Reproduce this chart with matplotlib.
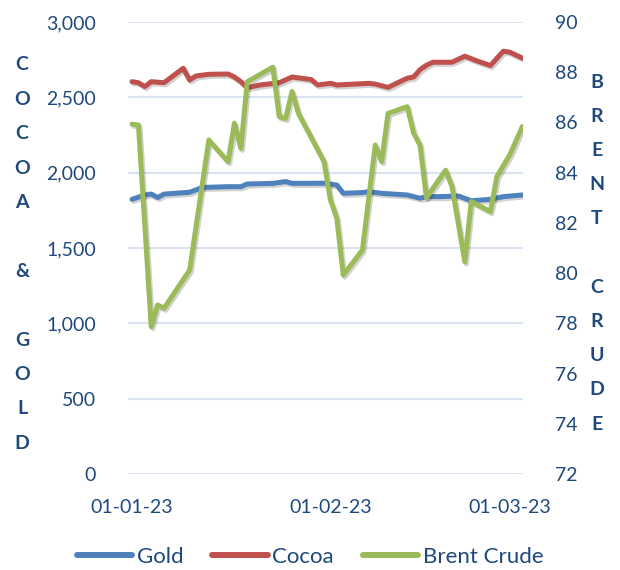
import pandas as pd
import matplotlib
matplotlib.use("Agg")
import matplotlib.pyplot as plt
import matplotlib.dates as mdates
import matplotlib.patheffects as pe

plt.rcParams['font.family'] = ['Lato', 'DejaVu Sans']

TEXT = "#1F497D"
GRID = "#D9E3F1"

gold_dates = ["2023-01-01", "2023-01-03", "2023-01-04", "2023-01-05", "2023-01-06",
              "2023-01-10", "2023-01-12", "2023-01-16", "2023-01-18", "2023-01-19",
              "2023-01-23", "2023-01-25", "2023-01-26", "2023-01-31", "2023-02-02",
              "2023-02-03", "2023-02-06", "2023-02-07", "2023-02-09", "2023-02-13",
              "2023-02-15", "2023-02-16", "2023-02-18", "2023-02-21", "2023-02-23",
              "2023-02-26", "2023-02-28", "2023-03-03"]
gold = [1823, 1852, 1858, 1835, 1858, 1870, 1902, 1907, 1907, 1925,
        1929, 1941, 1929, 1930, 1918, 1863, 1868, 1874, 1863, 1852,
        1830, 1841, 1841, 1845, 1814, 1823, 1841, 1852]

cocoa_dates = ["2023-01-01", "2023-01-02", "2023-01-03", "2023-01-04", "2023-01-06",
               "2023-01-09", "2023-01-10", "2023-01-11", "2023-01-13", "2023-01-16",
               "2023-01-17", "2023-01-18", "2023-01-19", "2023-01-21", "2023-01-24",
               "2023-01-26", "2023-01-29", "2023-01-30", "2023-02-01", "2023-02-02",
               "2023-02-07", "2023-02-08", "2023-02-10", "2023-02-13", "2023-02-14",
               "2023-02-15", "2023-02-16", "2023-02-17", "2023-02-20", "2023-02-22",
               "2023-02-24", "2023-02-26", "2023-02-28", "2023-03-01", "2023-03-03"]
cocoa = [2604, 2597, 2571, 2604, 2597, 2693, 2615, 2642, 2653, 2655,
         2635, 2604, 2564, 2582, 2597, 2635, 2618, 2582, 2593, 2582,
         2593, 2588, 2566, 2627, 2635, 2684, 2713, 2733, 2733, 2773,
         2740, 2711, 2806, 2800, 2760]

brent_dates = ["2023-01-01", "2023-01-02", "2023-01-04", "2023-01-05", "2023-01-06",
               "2023-01-10", "2023-01-13", "2023-01-16", "2023-01-17", "2023-01-18",
               "2023-01-19", "2023-01-23", "2023-01-24", "2023-01-25", "2023-01-26",
               "2023-01-27", "2023-01-31", "2023-02-01", "2023-02-02", "2023-02-03",
               "2023-02-06", "2023-02-08", "2023-02-09", "2023-02-10", "2023-02-13",
               "2023-02-14", "2023-02-15", "2023-02-16", "2023-02-19", "2023-02-20",
               "2023-02-22", "2023-02-23", "2023-02-26", "2023-02-27", "2023-03-01",
               "2023-03-03"]
brent = [85.93, 85.9, 77.87, 78.73, 78.6, 80.12, 85.3, 84.44, 85.97, 84.97,
         87.62, 88.2, 86.23, 86.16, 87.23, 86.36, 84.44, 82.91, 82.18, 79.92,
         80.92, 85.1, 84.44, 86.36, 86.63, 85.57, 85.1, 83.0, 84.1, 83.44,
         80.45, 82.85, 82.45, 83.84, 84.7, 85.84]

x_ticks = ["2023-01-01", "2023-02-01", "2023-03-01"]

fig = plt.figure(figsize=(6.2, 5.7), dpi=100)
ax = fig.add_axes([0.2065, 0.1684, 0.637, 0.793])
ax2 = ax.twinx()

shadow = [pe.SimpleLineShadow(offset=(1.2, -1.5), alpha=0.18), pe.Normal()]
lw = 3.6
l1, = ax.plot(pd.to_datetime(gold_dates), gold, color="#4F81BD", lw=lw,
              solid_capstyle="round", path_effects=shadow, label="Gold")
l2, = ax.plot(pd.to_datetime(cocoa_dates), cocoa, color="#C0504D", lw=lw,
              solid_capstyle="round", path_effects=shadow, label="Cocoa")
l3, = ax2.plot(pd.to_datetime(brent_dates), brent, color="#9BBB59", lw=lw,
               solid_capstyle="round", path_effects=shadow, label="Brent Crude")

ax.set_xlim(pd.Timestamp("2023-01-01") - pd.Timedelta(hours=15),
            pd.Timestamp("2023-03-03") + pd.Timedelta(hours=2))
ax.set_ylim(0, 3000)
ax2.set_ylim(72, 90)
ax.set_yticks(range(0, 3001, 500))
ax2.set_yticks(range(72, 91, 2))
ax.yaxis.set_major_formatter(matplotlib.ticker.StrMethodFormatter("{x:,.0f}"))
ax.set_xticks(pd.to_datetime(x_ticks))
ax.xaxis.set_major_formatter(mdates.DateFormatter("%d-%m-%y"))

ax.grid(axis="y", color=GRID, lw=1.5)
ax.set_axisbelow(True)
for a in (ax, ax2):
    for s in a.spines.values():
        s.set_visible(False)
    a.tick_params(length=0, labelsize=14, labelcolor=TEXT)
ax.tick_params(axis="y", pad=23)
ax.tick_params(axis="x", pad=18)
ax2.tick_params(axis="y", pad=23)

# stacked axis titles, one letter per line
for i, ch in enumerate("COCOA & GOLD"):
    fig.text(22 / 620, 1 - (65 + i * 34.4) / 570, ch, ha="center", va="center",
             fontsize=14, fontweight="bold", color=TEXT)
for i, ch in enumerate("BRENT CRUDE"):
    fig.text(597 / 620, 1 - (82 + i * 34.2) / 570, ch, ha="center", va="center",
             fontsize=14, fontweight="bold", color=TEXT)

leg = fig.legend(handles=[l1, l2, l3], loc="center", bbox_to_anchor=(0.5, 13 / 570),
                 ncol=3, frameon=False, fontsize=16, handlelength=2.5,
                 handletextpad=0.2, columnspacing=1.3)
for t in leg.get_texts():
    t.set_color(TEXT)
for h in leg.legend_handles:
    h.set_linewidth(4.3)
    h.set_path_effects([])

fig.savefig("out.png", dpi=100)
